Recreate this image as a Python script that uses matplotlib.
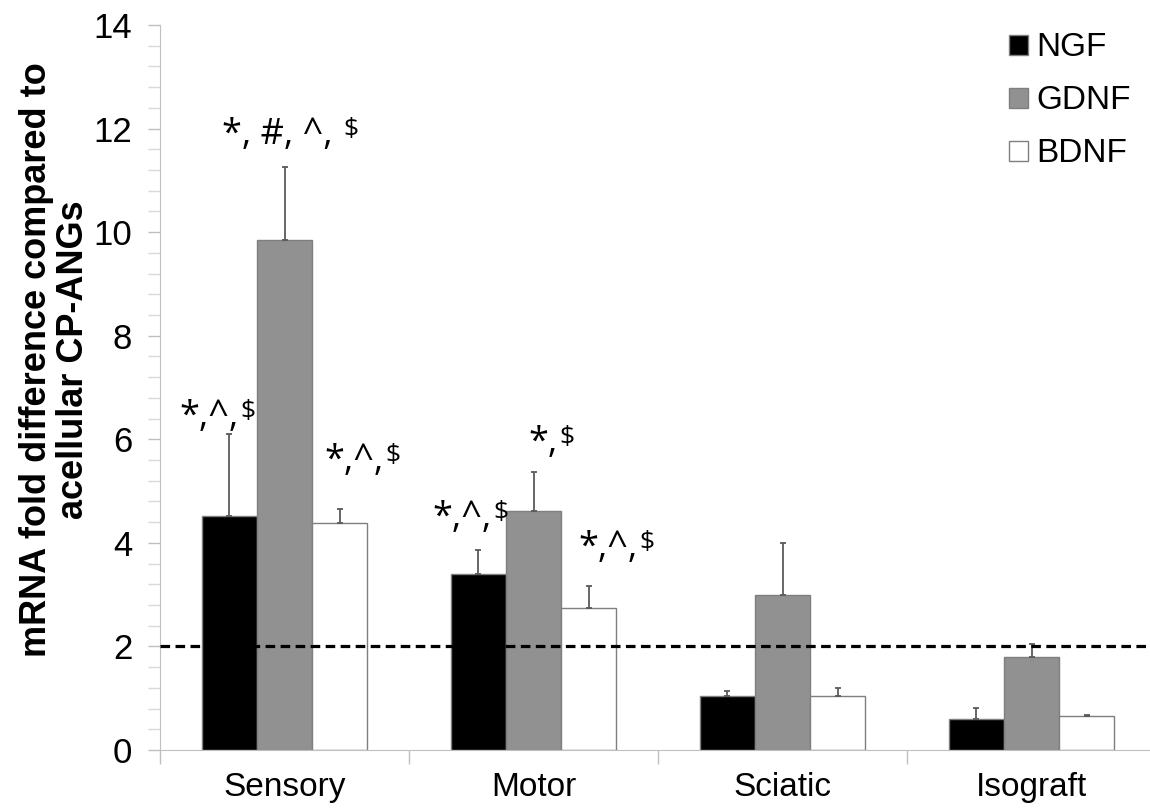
import matplotlib
matplotlib.use("Agg")
import matplotlib.pyplot as plt
import numpy as np
from matplotlib.patches import Patch
from matplotlib.ticker import MultipleLocator, FixedLocator, NullFormatter

# ---- data ----
categories = ["Sensory", "Motor", "Sciatic", "Isograft"]
series_names = ["NGF", "GDNF", "BDNF"]
ngf = [4.52, 3.40, 1.05, 0.60]
gdnf = [9.84, 4.61, 2.99, 1.80]
bdnf = [4.38, 2.74, 1.05, 0.65]
ngf_err = [1.59, 0.46, 0.09, 0.22]
gdnf_err = [1.42, 0.76, 1.00, 0.25]
bdnf_err = [0.27, 0.43, 0.15, 0.03]
threshold = 2.0

# significance marks: (category index, series index, main text, trailing symbol)
marks = [
    (0, 0, "*,^,", "$"),
    (0, 1, "*, #, ^, ", "$"),
    (0, 2, "*,^,", "$"),
    (1, 0, "*,^,", "$"),
    (1, 1, "*,", "$"),
    (1, 2, "*,^,", "$"),
]
# pixel offsets of each mark (dx, dy) from its error-bar tip
mark_offsets = [(-20, 35), (-2, 50), (15, 66), (-16, 50), (10, 47), (20, 56)]

values = [ngf, gdnf, bdnf]
errors = [ngf_err, gdnf_err, bdnf_err]
face_colors = ["#000000", "#919191", "#ffffff"]

W, H = 1150, 809
fig = plt.figure(figsize=(W / 100, H / 100), dpi=100)
ax = fig.add_axes([160 / W, (809 - 750) / H, 996 / W, 725 / H])

x = np.arange(len(categories))
bw = 0.221
offsets = [-bw, 0.0, bw]
for vals, errs, fc, off in zip(values, errors, face_colors, offsets):
    ax.bar(x + off, vals, width=bw, color=fc, edgecolor="#7f7f7f", linewidth=1.0,
           zorder=2)
    ax.errorbar(x + off, vals, yerr=[np.zeros(len(errs)), errs], fmt="none",
                ecolor="#5a5a5a", elinewidth=1.3, capsize=2, capthick=1.3, zorder=3)

ax.axhline(threshold, color="black", linewidth=2.3, dashes=(3.0, 1.7), zorder=4)

ax.set_xlim(-0.5, len(categories) - 0.5)
ax.set_ylim(0, 14)

# y axis
ax.yaxis.set_major_locator(MultipleLocator(2))
ax.yaxis.set_minor_locator(MultipleLocator(0.4))
ax.tick_params(axis="y", which="major", length=9, width=1, color="#bfbfbf",
               labelsize=25, pad=11, direction="out")
ax.tick_params(axis="y", which="minor", length=9, width=1, color="#d9d9d9",
               direction="out")
for lbl in ax.get_yticklabels():
    lbl.set_fontfamily("Liberation Sans")

# x axis: boundary ticks + centered labels
ax.xaxis.set_major_locator(FixedLocator(np.arange(-0.5, len(categories), 1.0)))
ax.xaxis.set_major_formatter(NullFormatter())
ax.xaxis.set_minor_locator(FixedLocator(x))
ax.set_xticks(x, categories, minor=True)
ax.tick_params(axis="x", which="major", length=10, width=1, color="#bfbfbf",
               direction="out")
ax.tick_params(axis="x", which="minor", length=0, labelsize=24, pad=16)
for lbl in ax.get_xticklabels(minor=True):
    lbl.set_fontfamily("Liberation Sans")

for side in ["top", "right"]:
    ax.spines[side].set_visible(False)
ax.spines["left"].set_color("#bfbfbf")
ax.spines["bottom"].set_color("#bfbfbf")

# y label
fig.text(55 / W, 1 - 360 / H, "mRNA fold difference compared to\nacellular CP-ANGs",
         rotation=90, ha="center", va="center", fontsize=26, fontweight="bold",
         family="Liberation Sans", linespacing=1.08)

# significance marks
for (ci, si, main, sym), (dx, dy) in zip(marks, mark_offsets):
    xb = x[ci] + offsets[si]
    yt = values[si][ci] + errors[si][ci]
    t = ax.annotate(main, xy=(xb, yt), xytext=(dx, dy), textcoords="offset pixels",
                    ha="center", va="top", fontsize=26, family="Open Sans",
                    zorder=5)
    ax.annotate("\\" + sym, xy=(1, 1), xycoords=t, xytext=(1, 0),
                textcoords="offset pixels", ha="left", va="top", fontsize=19,
                family="Open Sans", zorder=5)

# legend
handles = [Patch(facecolor=fc, edgecolor="#7f7f7f", linewidth=1.0) for fc in face_colors]
fig.legend(handles, series_names, loc="upper left", bbox_to_anchor=(996 / W, 1 - 19 / H),
           frameon=False, handlelength=0.55, handleheight=0.55,
           handletextpad=0.25, labelspacing=0.66, borderaxespad=0.0,
           prop={"family": "Liberation Sans", "size": 24})

fig.savefig("out.png", dpi=100)
